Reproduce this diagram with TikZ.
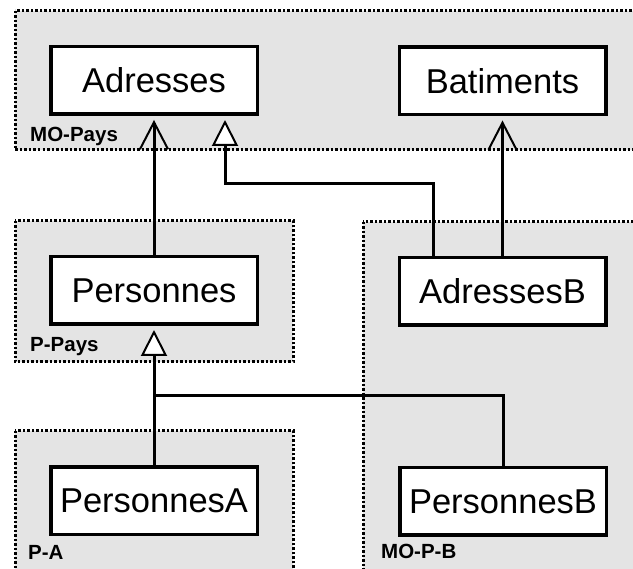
\documentclass[tikz,border=0pt]{standalone}
\usepackage{fontspec}
\setmainfont{Liberation Sans}
\usetikzlibrary{arrows.meta}
\definecolor{grp}{RGB}{228,228,228}
\begin{document}
\begin{tikzpicture}[x=1pt,y=-1pt,
 grpbox/.style={fill=grp, draw=black, line width=3pt, dash pattern=on 2.5pt off 2pt},
 cls/.style={draw=black, fill=white, line width=3.5pt, minimum width=206.5pt, minimum height=67.5pt, inner sep=0pt, font=\fontsize{34.5}{38}\selectfont},
 grplabel/.style={anchor=base west, inner sep=0pt, font=\fontsize{20.5}{23}\selectfont\bfseries},
 conn/.style={line width=3pt},
 dep/.style={conn, -{Straight Barb[length=27pt,width=28pt,line width=2pt]}, shorten >=4pt},
 inh/.style={conn, -{Triangle[length=26pt,width=26pt,fill=white,line width=2pt]}, shorten >=4pt},
]
\useasboundingbox (0,0) rectangle (633,569);
\clip (0,0) rectangle (633,569);
% groups
\draw[grpbox] (15,11) rectangle (650,150);
\draw[grpbox] (15,221) rectangle (293,362);
\draw[grpbox] (363,222) rectangle (650,590);
\draw[grpbox] (15,431) rectangle (293,590);
% classes
\node[cls] (adr) at (154,80.5) {Adresses};
\node[cls] (bat) at (502.5,81) {Batiments};
\node[cls] (pers) at (154,290.5) {Personnes};
\node[cls] (adrb) at (502.5,291.5) {AdressesB};
\node[cls] (persa) at (154,501) {PersonnesA};
\node[cls] (persb) at (503,501.5) {PersonnesB};
% group labels
\node[grplabel] (lmo) at (30,142) {MO-Pays};
\node[grplabel] (lpp) at (30,352) {P-Pays};
\node[grplabel] (lpa) at (28,560) {P-A};
\node[grplabel] (lmpb) at (381,559) {MO-P-B};
% connectors
\coordinate (ab1) at ([xshift=-69.5pt]adrb.north);
\coordinate (ad1) at ([xshift=71pt]adr.south);
\coordinate (bend1) at (0,184);
\coordinate (bend2) at (0,396);
\draw[dep] (pers.north) -- (adr.south);
\draw[inh] (ab1) |- (bend1 -| ad1) -- (ad1);
\draw[dep] (adrb.north) -- (bat.south);
\draw[inh] (persa.north) -- (pers.south);
\draw[conn] (persb.north) |- (bend2 -| pers.south);
\end{tikzpicture}
\end{document}
